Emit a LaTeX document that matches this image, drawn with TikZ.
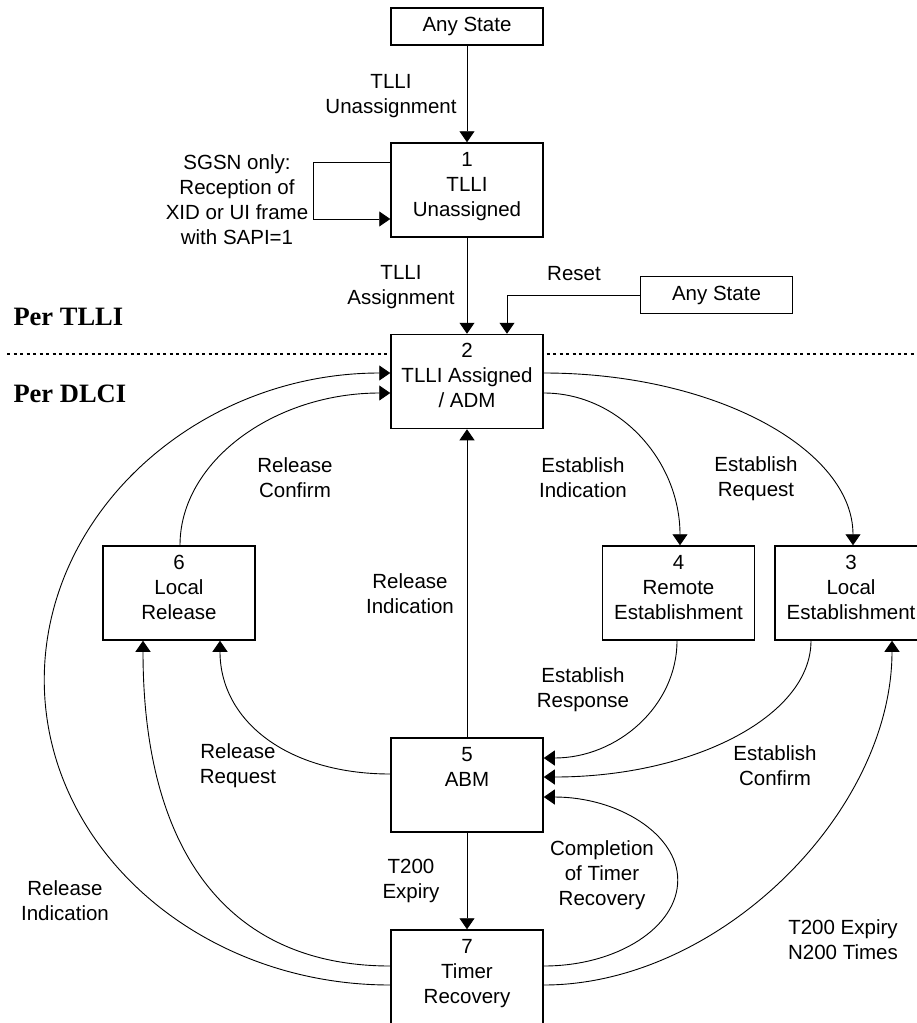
\documentclass[tikz,border=0pt]{standalone}
\usepackage{fontspec}
\setmainfont{Liberation Sans}
\newfontfamily\hdrfont{Liberation Serif}
\usepackage{tikz}
\usetikzlibrary{arrows.meta}
\definecolor{ink}{HTML}{000000}
\tikzset{
  state/.style={draw=ink, fill=white, line width=1.5pt, minimum width=152pt, minimum height=94pt, align=center, inner sep=0pt, text depth=12pt},
  anybox/.style={draw=ink, fill=white, line width=1.5pt, minimum width=152pt, minimum height=37pt, inner sep=0pt},
  flow/.style={draw=ink, line width=0.9pt, -{Triangle[length=11pt,width=15pt]}},
  lab/.style={align=center, text=ink},
  hdr/.style={font=\hdrfont\bfseries\fontsize{26.5}{30}\selectfont, anchor=base west},
  sep/.style={draw=ink, line width=1.3pt, dash pattern=on 3pt off 3.5pt},
  every node/.style={font=\fontsize{20.5}{25}\selectfont}
}

\begin{document}
\begin{tikzpicture}[x=1pt, y=-1pt]
  \useasboundingbox (0,0) rectangle (917,1023);

  \coordinate (sepL) at (7,354);
  \coordinate (sepR) at (917,354);
  \draw[sep] (sepL) -- (sepR);
  \node[hdr] (perTLLI) at (10,325) {Per TLLI};
  \node[hdr] (perDLCI) at (10,402) {Per DLCI};

  \node[anybox] (any1) at (467,26.5) {Any State};
  \node[state] (b1) at (467,190) {1\\TLLI\\Unassigned};
  \node[anybox] (any2) at (716.5,295) {Any State};
  \node[state] (b2) at (467,381.5) {2\\TLLI Assigned\\/ ADM};
  \node[state] (b6) at (179,593) {6\\Local\\Release};
  \node[state] (b4) at (678.5,593) {4\\Remote\\Establishment};
  \node[state] (b3) at (851,593) {3\\Local\\Establishment};
  \node[state] (b5) at (467,785) {5\\ABM\\~};
  \node[state] (b7) at (467,977) {7\\Timer\\Recovery};

  \draw[flow] (any1) -- (b1);
  \draw[flow] (b1) -- (b2);
  \draw[flow] ([yshift=28pt]b1.west) -- ++(-77,0) |- ([yshift=-29pt]b1.west);
  \draw[flow] (any2) -| ([xshift=40pt]b2.north);
  \draw[flow] (b5) -- (b2);
  \draw[flow] (b5) -- (b7);

  \draw[flow] ([yshift=8.5pt]b2.east) .. controls +(171,0) and +(0,-96) .. ([xshift=2pt]b3.north);
  \draw[flow] ([yshift=-11.5pt]b2.east) .. controls +(76,0) and +(0,-84) .. ([xshift=1.5pt]b4.north);
  \draw[flow] ([xshift=1pt]b6.north) .. controls +(0,-84) and +(-116,0) .. ([yshift=-11.5pt]b2.west);
  \draw[flow] ([yshift=-8pt]b7.west) .. controls +(-191,0) and +(0,168) .. ++(-346,-305)
    .. controls +(0,-169) and +(-191,0) .. ([yshift=8.5pt]b2.west);
  \draw[flow] ([yshift=11pt]b5.west) .. controls +(-103,0) and +(0,80) .. ([xshift=41pt]b6.south);
  \draw[flow] ([yshift=11pt]b7.west) .. controls +(-161,0) and +(0,212) .. ([xshift=-36pt]b6.south);
  \draw[flow] ([xshift=-1.5pt]b4.south) .. controls +(0,65) and +(74,0) .. ([yshift=27pt]b5.east);
  \draw[flow] ([xshift=-40pt]b3.south) .. controls +(0,76) and +(148,0) .. ([yshift=8pt]b5.east);
  \draw[flow] ([yshift=11pt]b7.east) .. controls +(74,0) and +(0,47) .. ++(134,-86)
    .. controls +(0,-46) and +(74,0) .. ([yshift=-12pt]b5.east);
  \draw[flow] ([yshift=-8pt]b7.east) .. controls +(175,0) and +(0,172) .. ([xshift=41pt]b3.south);

  \node[lab] (lUnassign) at (391,96) {TLLI\\Unassignment};
  \node[lab] (lSgsn) at (237,200) {SGSN only:\\Reception of\\XID or UI frame\\with SAPI=1};
  \node[lab] (lAssign) at (401,287) {TLLI\\Assignment};
  \node[lab] (lReset) at (574,274) {Reset};
  \node[lab] (lRelConf) at (295,478) {Release\\Confirm};
  \node[lab] (lEstInd) at (583,478) {Establish\\Indication};
  \node[lab] (lEstReq) at (756,479) {Establish\\Request};
  \node[lab] (lRelInd) at (410,594) {Release\\Indication};
  \node[lab] (lRelReq) at (238,766) {Release\\Request};
  \node[lab] (lT200) at (411,881) {T200\\Expiry};
  \node[lab] (lRelIndB) at (65,901) {Release\\Indication};
  \node[lab] (lEstResp) at (583,690) {Establish\\Response};
  \node[lab] (lEstConf) at (775,766) {Establish\\Confirm};
  \node[lab] (lCompl) at (602,875) {Completion\\of Timer\\Recovery};
  \node[lab] (lN200) at (843,940) {T200 Expiry\\N200 Times};
\end{tikzpicture}
\end{document}
